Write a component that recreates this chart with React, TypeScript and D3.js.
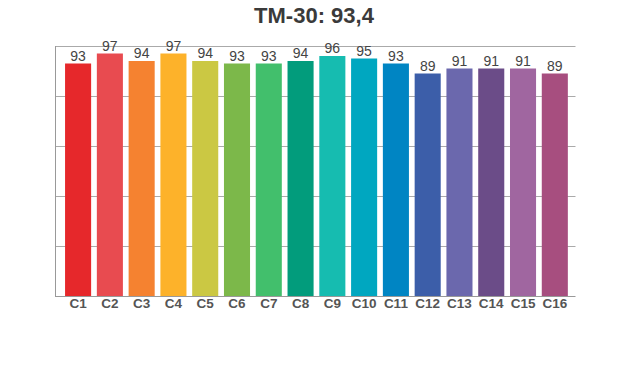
import React from 'react';
import * as d3 from 'd3';

const categories = ['C1', 'C2', 'C3', 'C4', 'C5', 'C6', 'C7', 'C8', 'C9', 'C10', 'C11', 'C12', 'C13', 'C14', 'C15', 'C16'];
const values = [93, 97, 94, 97, 94, 93, 93, 94, 96, 95, 93, 89, 91, 91, 91, 89];
const barColors = [
  '#e6282b', '#e84b50', '#f58230', '#fdb22a', '#cbc843', '#7cb84a', '#42bf6c', '#029c7c',
  '#16bcb0', '#00a7c0', '#0085c3', '#3c5ea9', '#6b68ad', '#6b4c88', '#a066a0', '#a74e7f',
];
const gridTicks = [0, 20, 40, 60, 80, 100];
const title = 'TM-30: 93,4';

const App: React.FC = () => {
  const width = 620;
  const height = 370;
  const left = 55.5;
  const right = 575.5;
  const top = 46;
  const bottom = 296;

  const x = d3.scaleBand<string>()
    .domain(categories)
    .range([62.2, 570.7])
    .paddingInner(0.18)
    .paddingOuter(0.09);
  const y = d3.scaleLinear().domain([0, 100]).range([bottom, top]);

  const font = '"Liberation Sans", Arial, sans-serif';

  return (
    <svg width={width} height={height} style={{ position: 'absolute', left: 0, top: 0, background: '#fff' }}>
      <text x={314} y={23} textAnchor="middle" fontFamily={font} fontWeight="bold" fontSize={22} fill="#3a3a3a">
        {title}
      </text>

      {/* gridlines */}
      {gridTicks.map(t => (
        <line key={t} x1={left} x2={right} y1={Math.round(y(t)) + 0.5} y2={Math.round(y(t)) + 0.5}
          stroke={t === 0 ? '#999' : '#aaa'} strokeWidth={1} />
      ))}
      <line x1={left} x2={left} y1={top} y2={bottom + 1} stroke="#999" strokeWidth={1} />

      {/* bars */}
      {categories.map((c, i) => (
        <rect key={c} x={x(c)} y={y(values[i])} width={x.bandwidth()} height={bottom - y(values[i])}
          fill={barColors[i]} />
      ))}

      {/* value labels */}
      {categories.map((c, i) => (
        <text key={c} x={(x(c) ?? 0) + x.bandwidth() / 2} y={y(values[i]) - 3} textAnchor="middle"
          fontFamily={font} fontSize={14} fill="#444">
          {values[i]}
        </text>
      ))}

      {/* category labels */}
      {categories.map(c => (
        <text key={c} x={(x(c) ?? 0) + x.bandwidth() / 2} y={308} textAnchor="middle"
          fontFamily={font} fontWeight="bold" fontSize={13.5} fill="#555">
          {c}
        </text>
      ))}
    </svg>
  );
};

export default App;
